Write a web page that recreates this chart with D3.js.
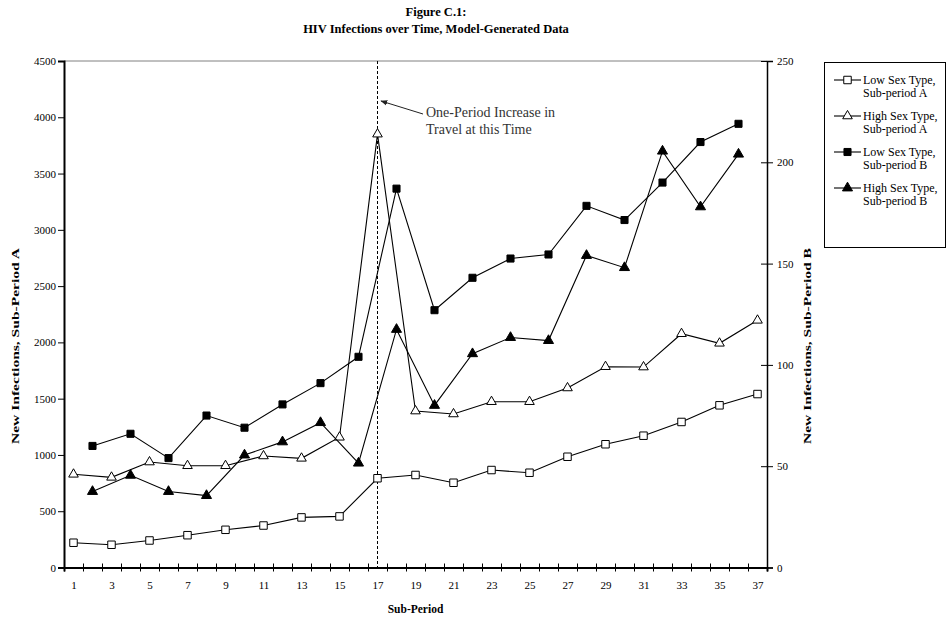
<!DOCTYPE html>
<html>
<head>
<meta charset="utf-8">
<script src="https://cdn.jsdelivr.net/npm/d3@7"></script>
<style>
  html, body { margin: 0; padding: 0; background: #fff; }
  svg { display: block; font-family: "Liberation Serif", "Times New Roman", serif; }
</style>
</head>
<body>
<svg id="chart" width="947" height="618"></svg>
<script>
// ---- Data ----
const periodsA = [1,3,5,7,9,11,13,15,17,19,21,23,25,27,29,31,33,35,37];
const periodsB = [2,4,6,8,10,12,14,16,18,20,22,24,26,28,30,32,34,36];
const lowA  = [220,202,240,287,335,373,445,454,793,822,753,866,842,984,1095,1171,1293,1441,1541];
const highA = [828,801,937,904,904,991,970,1157,3850,1390,1364,1473,1473,1595,1784,1781,2077,1992,2196];
const lowB  = [60,66,54,75,69,80.5,91,104,187,127,143,152.5,154.5,178.5,171.5,190,210,219];
const highB = [37.5,45.5,37.5,35.5,55.5,62,71.5,51.5,117.5,80,105.5,113.5,112,154,148,205.5,178,204];
const leftTicks  = [0,500,1000,1500,2000,2500,3000,3500,4000,4500];
const rightTicks = [0,50,100,150,200,250];
const xLabels = [1,3,5,7,9,11,13,15,17,19,21,23,25,27,29,31,33,35,37];
const seriesNames = [
  ["Low Sex Type,", "Sub-period A"],
  ["High Sex Type,", "Sub-period A"],
  ["Low Sex Type,", "Sub-period B"],
  ["High Sex Type,", "Sub-period B"]
];
const titleLines = ["Figure C.1:", "HIV Infections over Time, Model-Generated Data"];
const eventPeriod = 17;

// ---- Layout ----
const L = 64, R = 767, T = 61, B = 567.5;
const svg = d3.select("#chart");

const x = d3.scaleLinear().domain([0.5, 37.5]).range([L, R]);
const yL = d3.scaleLinear().domain([0, 4500]).range([B, T]);
const yR = d3.scaleLinear().domain([0, 250]).range([B, T]);

// plot area border (top, gray)
svg.append("line").attr("x1", L).attr("x2", R).attr("y1", T).attr("y2", T)
  .attr("stroke", "#808080").attr("stroke-width", 1);

// Title
svg.append("text").attr("x", 436).attr("y", 16).attr("text-anchor", "middle")
  .attr("font-size", 12.5).attr("font-weight", "bold").text(titleLines[0]);
svg.append("text").attr("x", 436).attr("y", 33).attr("text-anchor", "middle")
  .attr("font-size", 12.5).attr("font-weight", "bold").text(titleLines[1]);

// Left axis
const gL = svg.append("g").attr("transform", `translate(${L},0)`)
  .call(d3.axisLeft(yL).tickValues(leftTicks).tickSize(6).tickPadding(2).tickFormat(d3.format("d")));
gL.select(".domain").attr("stroke-width", 2);
gL.selectAll("text").attr("font-size", 11).attr("font-family", "Liberation Serif");

// Right axis (crossing ticks)
const gR = svg.append("g").attr("transform", `translate(${R},0)`)
  .call(d3.axisRight(yR).tickValues(rightTicks).tickSize(6).tickPadding(4).tickFormat(d3.format("d")));
gR.selectAll(".tick line").attr("x1", -6);
gR.select(".domain").attr("stroke-width", 1.5);
gR.selectAll("text").attr("font-size", 11).attr("font-family", "Liberation Serif");

// Bottom axis: boundary ticks crossing
const bounds = d3.range(0.5, 38, 1);
const gB = svg.append("g").attr("transform", `translate(0,${B})`)
  .call(d3.axisBottom(x).tickValues(bounds).tickSize(4).tickFormat(""));
gB.selectAll(".tick line").attr("y1", -4);
gB.select(".domain").attr("stroke-width", 2);
const gBL = svg.append("g").attr("transform", `translate(0,${B})`)
  .call(d3.axisBottom(x).tickValues(xLabels).tickSize(0).tickPadding(14).tickFormat(d3.format("d")));
gBL.select(".domain").remove();
gBL.selectAll("text").attr("font-size", 11).attr("font-family", "Liberation Serif");

// Axis titles
const axTitleY = 346;
svg.append("text").attr("transform", `translate(19,${axTitleY}) rotate(-90)`)
  .attr("text-anchor", "middle").attr("font-size", 11).attr("font-weight", "bold")
  .attr("textLength", 196).attr("lengthAdjust", "spacingAndGlyphs")
  .text("New Infections, Sub-Period A");
svg.append("text").attr("transform", `translate(811,${axTitleY}) rotate(-90)`)
  .attr("text-anchor", "middle").attr("font-size", 11).attr("font-weight", "bold")
  .attr("textLength", 196).attr("lengthAdjust", "spacingAndGlyphs")
  .text("New Infections, Sub-Period B");
svg.append("text").attr("x", (L + R) / 2).attr("y", 613).attr("text-anchor", "middle")
  .attr("font-size", 11.5).attr("font-weight", "bold").text("Sub-Period");

// Dashed event line
svg.append("line").attr("x1", x(eventPeriod)).attr("x2", x(eventPeriod))
  .attr("y1", T).attr("y2", B).attr("stroke", "#000").attr("stroke-width", 1)
  .attr("stroke-dasharray", "3,2");

// Annotation arrow
svg.append("defs").append("marker").attr("id", "arr").attr("viewBox", "0 0 10 10")
  .attr("refX", 9).attr("refY", 5).attr("markerWidth", 7).attr("markerHeight", 7)
  .attr("orient", "auto")
  .append("path").attr("d", "M0,1 L10,5 L0,9 Z").attr("fill", "#222");
svg.append("line").attr("x1", 423).attr("y1", 114).attr("x2", 381).attr("y2", 101)
  .attr("stroke", "#222").attr("stroke-width", 1).attr("marker-end", "url(#arr)");
svg.append("text").attr("x", 426).attr("y", 116.5).attr("font-size", 14).attr("fill", "#333")
  .text("One-Period Increase in");
svg.append("text").attr("x", 426).attr("y", 133.5).attr("font-size", 14).attr("fill", "#333")
  .text("Travel at this Time");

// Series
const lineGen = (ys) => d3.line().x(d => x(d[0])).y(d => ys(d[1]));
const series = [
  { p: periodsA, v: lowA,  ys: yL, sym: d3.symbolSquare,   size: 56, fill: "#fff" },
  { p: periodsA, v: highA, ys: yL, sym: d3.symbolTriangle, size: 40, fill: "#fff" },
  { p: periodsB, v: lowB,  ys: yR, sym: d3.symbolSquare,   size: 50, fill: "#000" },
  { p: periodsB, v: highB, ys: yR, sym: d3.symbolTriangle, size: 44, fill: "#000" }
];
series.forEach(s => {
  const pts = s.p.map((p, i) => [p, s.v[i]]);
  svg.append("path").datum(pts).attr("d", lineGen(s.ys)).attr("fill", "none")
    .attr("stroke", "#000").attr("stroke-width", 1.1);
  svg.append("g").selectAll("path").data(pts).join("path")
    .attr("transform", d => `translate(${x(d[0])},${s.ys(d[1])})`)
    .attr("d", d3.symbol().type(s.sym).size(s.size))
    .attr("fill", s.fill).attr("stroke", "#000").attr("stroke-width", 1);
});

// Legend
const lg = svg.append("g");
lg.append("rect").attr("x", 824.5).attr("y", 62.5).attr("width", 121).attr("height", 185)
  .attr("fill", "#fff").attr("stroke", "#000").attr("stroke-width", 1);
series.forEach((s, i) => {
  const yy = 80 + i * 36;
  lg.append("line").attr("x1", 834).attr("x2", 861).attr("y1", yy).attr("y2", yy)
    .attr("stroke", "#000").attr("stroke-width", 1.1);
  lg.append("path").attr("transform", `translate(847.5,${yy})`)
    .attr("d", d3.symbol().type(s.sym).size(s.size))
    .attr("fill", s.fill).attr("stroke", "#000").attr("stroke-width", 1);
  lg.append("text").attr("x", 863).attr("y", yy + 4).attr("font-size", 12).text(seriesNames[i][0]);
  lg.append("text").attr("x", 863).attr("y", yy + 16.5).attr("font-size", 12).text(seriesNames[i][1]);
});
</script>
</body>
</html>
